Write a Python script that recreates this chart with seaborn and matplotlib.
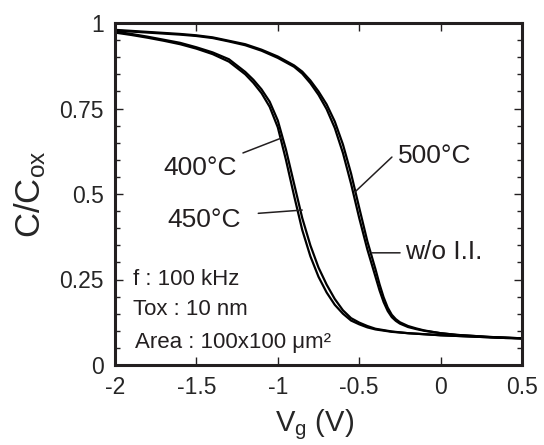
import matplotlib
matplotlib.use("Agg")
import matplotlib.pyplot as plt
import numpy as np
import pandas as pd
import seaborn as sns
from matplotlib.ticker import MultipleLocator

# Gate voltage grids (V)
vg_low = [-2.0, -1.9, -1.8, -1.7, -1.6, -1.5, -1.4, -1.3, -1.2, -1.15, -1.1, -1.05,
          -1.0, -0.95, -0.9, -0.85, -0.8, -0.75, -0.7, -0.65, -0.6, -0.55, -0.5,
          -0.45, -0.4, -0.3, -0.2, -0.1, 0.0, 0.1, 0.2, 0.3, 0.4, 0.5]
vg_high = [-2.0, -1.9, -1.8, -1.7, -1.6, -1.5, -1.4, -1.3, -1.2, -1.1, -1.0, -0.9,
           -0.85, -0.8, -0.75, -0.7, -0.65, -0.6, -0.55, -0.5, -0.45, -0.4, -0.375,
           -0.35, -0.325, -0.3, -0.275, -0.25, -0.2, -0.15, -0.1, 0.0, 0.1, 0.2,
           0.3, 0.4, 0.5]

# Normalised capacitance C/Cox
c_400 = [0.975, 0.968, 0.960, 0.951, 0.942, 0.929, 0.914, 0.894, 0.857, 0.834, 0.806, 0.770,
         0.715, 0.630, 0.530, 0.430, 0.350, 0.285, 0.235, 0.193, 0.160, 0.137, 0.124,
         0.114, 0.106, 0.098, 0.093, 0.090, 0.087, 0.085, 0.083, 0.081, 0.079, 0.078]
c_450 = [0.972, 0.965, 0.957, 0.948, 0.938, 0.925, 0.909, 0.887, 0.850, 0.825, 0.795, 0.755,
         0.695, 0.600, 0.495, 0.395, 0.318, 0.258, 0.212, 0.176, 0.150, 0.130, 0.119,
         0.110, 0.104, 0.097, 0.093, 0.090, 0.087, 0.085, 0.083, 0.081, 0.079, 0.078]
c_500 = [0.978, 0.975, 0.972, 0.969, 0.966, 0.962, 0.956, 0.946, 0.935, 0.919, 0.898, 0.872,
         0.852, 0.824, 0.790, 0.748, 0.693, 0.620, 0.530, 0.430, 0.338, 0.258, 0.218,
         0.184, 0.158, 0.140, 0.129, 0.121, 0.111, 0.105, 0.100, 0.093, 0.088, 0.085,
         0.082, 0.080, 0.078]
c_wo = [0.980, 0.977, 0.974, 0.971, 0.968, 0.964, 0.958, 0.948, 0.938, 0.922, 0.902, 0.876,
        0.858, 0.832, 0.800, 0.762, 0.712, 0.645, 0.560, 0.460, 0.362, 0.280, 0.236,
        0.198, 0.168, 0.147, 0.134, 0.125, 0.114, 0.107, 0.101, 0.093, 0.088, 0.085,
        0.082, 0.080, 0.078]

x_ticks = [-2, -1.5, -1, -0.5, 0, 0.5]
x_tick_labels = ["-2", "-1.5", "-1", "-0.5", "0", "0.5"]
y_ticks = [0, 0.25, 0.5, 0.75, 1]
y_tick_labels = ["0", "0.25", "0.5", "0.75", "1"]

sns.set_style("ticks")
plt.rcParams["font.family"] = ["Liberation Sans", "DejaVu Sans"]
plt.rcParams["mathtext.fontset"] = "custom"
plt.rcParams["mathtext.rm"] = "Liberation Sans"
plt.rcParams["mathtext.it"] = "Liberation Sans:italic"
plt.rcParams["axes.unicode_minus"] = False

df = pd.concat([
    pd.DataFrame({"Vg": vg_low, "C": c_400, "curve": "400"}),
    pd.DataFrame({"Vg": vg_low, "C": c_450, "curve": "450"}),
    pd.DataFrame({"Vg": vg_high, "C": c_500, "curve": "500"}),
    pd.DataFrame({"Vg": vg_high, "C": c_wo, "curve": "wo"}),
], ignore_index=True)

fig = plt.figure(figsize=(5.44, 4.45), dpi=100)
ax = fig.add_axes([115 / 544, 80 / 445, 407 / 544, 342 / 445])

sns.lineplot(data=df, x="Vg", y="C", units="curve", estimator=None, sort=False,
             color="black", lw=1.6, legend=False, ax=ax)

ax.set_xlim(-2, 0.5)
ax.set_ylim(0, 1)
ax.set_xticks(x_ticks)
ax.set_xticklabels(x_tick_labels)
ax.set_yticks(y_ticks)
ax.set_yticklabels(y_tick_labels)
ax.yaxis.set_minor_locator(MultipleLocator(0.05))

for sp in ax.spines.values():
    sp.set_linewidth(2.2)
    sp.set_color("#231f20")
    sp.set_visible(True)

ax.tick_params(which="both", direction="in", top=True, right=True,
               width=1, color="#231f20")
ax.tick_params(which="major", length=6, labelsize=16.5, pad=8)
ax.tick_params(which="minor", length=3.5)
ax.tick_params(axis="x", which="minor", bottom=False, top=False)

ax.set_xlabel(r"V$_{\mathrm{g}}$ (V)", fontsize=21)
ax.set_ylabel(r"C/C$_{\mathrm{ox}}$", fontsize=25)
ax.xaxis.set_label_coords(0.49, -0.125)
ax.yaxis.set_label_coords(-0.165, 0.5)

# Curve labels with leader lines
lab_kw = dict(fontsize=19, ha="left", va="baseline", color="#231f20")
line_kw = dict(arrowstyle="-", lw=1.1, color="#231f20", shrinkA=0, shrinkB=0)

ax.text(-1.705, 0.556, "400\u00b0C", **lab_kw)
ax.annotate("", xy=(-0.976, 0.664), xytext=(-1.214, 0.620), arrowprops=line_kw)

ax.text(-1.681, 0.404, "450\u00b0C", **lab_kw)
ax.annotate("", xy=(-0.85, 0.453), xytext=(-1.12, 0.4435), arrowprops=line_kw)

ax.text(-0.262, 0.591, "500\u00b0C", **lab_kw)
ax.annotate("", xy=(-0.526, 0.506), xytext=(-0.299, 0.608), arrowprops=line_kw)

ax.text(-0.219, 0.31, "w/o I.I.", **lab_kw)
ax.annotate("", xy=(-0.424, 0.328), xytext=(-0.249, 0.328), arrowprops=line_kw)

# Measurement conditions
cond_kw = dict(fontsize=16, ha="left", va="baseline", color="#231f20")
ax.text(-1.889, 0.234, "f : 100 kHz", **cond_kw)
ax.text(-1.889, 0.146, "Tox : 10 nm", **cond_kw)
ax.text(-1.877, 0.050, "Area : 100x100 \u03bcm\u00b2", **cond_kw)

fig.savefig("out.png", dpi=100)
